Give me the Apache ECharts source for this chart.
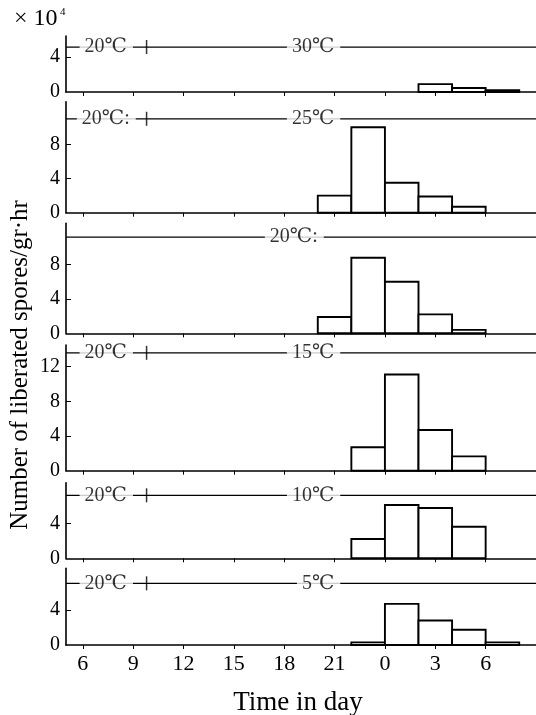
<!DOCTYPE html>
<html>
<head>
<meta charset="utf-8">
<script src="https://cdn.jsdelivr.net/npm/echarts@6/dist/echarts.min.js"></script>
<style>html,body{margin:0;padding:0;background:#fff}#c{width:536px;height:715px}</style>
</head>
<body>
<div id="c"></div>
<script>
// ---- data ----
const binStart = [20, 22, 24, 26, 28, 30];          // hour at start of each 2-h bin (24 = 0 h next day)
const binWidth = 2;
const spores30 = [0, 0, 0, 0.9, 0.45, 0.2];
const spores25 = [2.0, 10.0, 3.5, 1.9, 0.7, 0];
const spores20 = [1.9, 8.8, 6.0, 2.2, 0.4, 0];
const spores15 = [0, 2.7, 11.1, 4.7, 1.65, 0];
const spores10 = [0, 2.2, 6.1, 5.75, 3.6, 0];
const spores5  = [0, 0.3, 4.7, 2.8, 1.75, 0.3];
const tempLabels = ['30℃', '25℃', '20℃:', '15℃', '10℃', '5℃'];
const startLabels = ['20℃', '20℃:', null, '20℃', '20℃', '20℃'];
const switchHour = 9.8;
const xTickValues = [6, 9, 12, 15, 18, 21, 24, 27, 30];
const yTickLabels = [[0, 4], [0, 4, 8], [0, 4, 8], [0, 4, 8, 12], [0, 4], [0, 4]];
const yLabel = 'Number of liberated spores/gr·hr';
const xLabel = 'Time in day';

// ---- layout ----
const panels = [spores30, spores25, spores20, spores15, spores10, spores5];
const gridTop = [36, 101.7, 223.3, 345, 482.7, 568.3];
const gridHeight = [56, 111, 110, 125.7, 75.6, 76.7];
const yMax = [6.4, 13, 12.8, 14.5, 8.64, 8.77];
const tempLevel = [5.14, 11.0, 11.2, 13.6, 7.2, 7.05];
const startLabelX = [7.4, 7.4, null, 7.4, 7.4, 7.4];
const tempLabelX = [19.75, 19.75, 18.6, 19.75, 19.75, 20.05];

const FONT = '"Liberation Serif", "DejaVu Serif", serif';
const BLACK = '#000';

const grids = [], xAxes = [], yAxes = [], series = [];
panels.forEach(function (vals, i) {
  const last = i === panels.length - 1;
  grids.push({left: 66, width: 474, top: gridTop[i], height: gridHeight[i]});
  xAxes.push({
    type: 'value', gridIndex: i, min: 5, max: 33,
    axisLine: {show: true, onZero: false, lineStyle: {color: BLACK, width: 1.6}},
    axisTick: {show: true, inside: false, length: 4, customValues: xTickValues, lineStyle: {color: BLACK, width: 1}},
    axisLabel: {show: last, customValues: xTickValues, margin: 8, fontSize: 22, fontFamily: FONT, color: BLACK,
      formatter: function (v) { return String(v % 24); }},
    splitLine: {show: false}
  });
  const yt = yTickLabels[i];
  yAxes.push({
    type: 'value', gridIndex: i, min: 0, max: yMax[i],
    axisLine: {show: true, lineStyle: {color: BLACK, width: 1.6}},
    axisTick: {show: true, inside: true, length: 5, customValues: yt.filter(function (v) { return v > 0; }), lineStyle: {color: BLACK, width: 1}},
    axisLabel: {show: true, customValues: yt, margin: 6, fontSize: 20, fontFamily: FONT, color: BLACK},
    splitLine: {show: false}
  });
  // histogram bars
  series.push({
    type: 'custom', xAxisIndex: i, yAxisIndex: i, z: 3,
    data: binStart.map(function (s, k) { return [s, vals[k]]; }),
    encode: {x: 0, y: 1},
    renderItem: function (params, api) {
      const s = api.value(0), v = api.value(1);
      if (!v) return null;
      const p0 = api.coord([s, v]);
      const p1 = api.coord([s + binWidth, 0]);
      return {type: 'rect', shape: {x: p0[0], y: p0[1], width: p1[0] - p0[0], height: p1[1] - p0[1]},
        style: {fill: '#fff', stroke: BLACK, lineWidth: 1.9}};
    }
  });
  // temperature regime line
  series.push({
    type: 'line', xAxisIndex: i, yAxisIndex: i, z: 2, symbol: 'none', silent: true,
    data: [[5, tempLevel[i]], [33, tempLevel[i]]],
    lineStyle: {color: BLACK, width: 1.3}
  });
  // labels + switch mark
  const pts = [];
  if (startLabels[i]) pts.push({value: [startLabelX[i], tempLevel[i]], name: startLabels[i]});
  pts.push({value: [tempLabelX[i], tempLevel[i]], name: tempLabels[i]});
  series.push({
    type: 'scatter', xAxisIndex: i, yAxisIndex: i, z: 6, symbolSize: 0, silent: true,
    data: pts,
    label: {show: true, position: 'inside', formatter: '{b}', fontSize: 20, fontFamily: FONT, color: BLACK,
      backgroundColor: '#fff', padding: [1, 6, 1, 5]}
  });
  if (startLabels[i]) {
    series.push({
      type: 'scatter', xAxisIndex: i, yAxisIndex: i, z: 7, symbol: 'rect', symbolSize: [1.5, 14], silent: true,
      itemStyle: {color: BLACK},
      data: [[switchHour, tempLevel[i]]]
    });
  }
});

const chart = echarts.init(document.getElementById('c'), null, {renderer: 'canvas'});
chart.setOption({
  backgroundColor: '#fff',
  animation: false,
  grid: grids, xAxis: xAxes, yAxis: yAxes, series: series,
  graphic: [
    {type: 'text', left: 14, top: 7, style: {text: '× 10', fontSize: 24, fontFamily: FONT, fill: BLACK}},
    {type: 'text', left: 60, top: 7, style: {text: '4', fontSize: 11, fontFamily: FONT, fill: BLACK}},
    {type: 'text', x: 20, y: 365, rotation: Math.PI / 2,
      style: {text: yLabel, fontSize: 25, fontFamily: FONT, fill: BLACK, align: 'center', verticalAlign: 'middle'}},
    {type: 'text', x: 298, y: 703,
      style: {text: xLabel, fontSize: 27, fontFamily: FONT, fill: BLACK, align: 'center', verticalAlign: 'middle'}}
  ]
});
</script>
</body>
</html>
